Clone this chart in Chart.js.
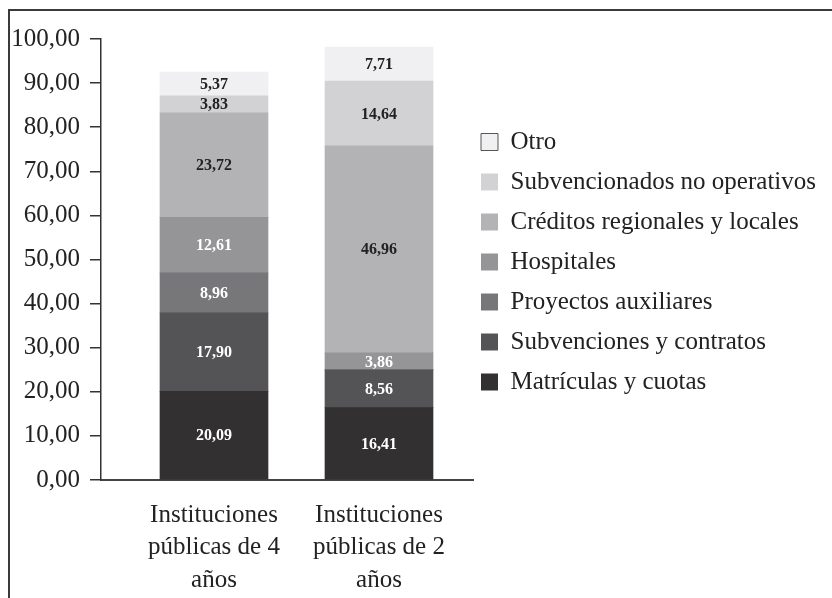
<!DOCTYPE html>
<html>
<head>
<meta charset="utf-8">
<script src="https://cdn.jsdelivr.net/npm/chart.js@4.4.1/dist/chart.umd.min.js"></script>
<style>
    html, body { margin: 0; padding: 0; background: #fff; }
    #wrap { position: relative; width: 832px; height: 598px; overflow: hidden; }
    #frame {
        position: absolute; left: 8px; top: 9px; right: 0; bottom: 0;
        border-top: 2px solid #3a3a3a; border-left: 2px solid #3a3a3a;
        pointer-events: none;
    }
    canvas { position: absolute; left: 0; top: 0; }
</style>
</head>
<body>
<div id="wrap">
    <canvas id="chart" width="832" height="598"></canvas>
    <div id="frame"></div>
</div>
<script>
// Categories (one array of lines per bar)
const categories = [
    ['Instituciones', 'públicas de 4', 'años'],
    ['Instituciones', 'públicas de 2', 'años']
];

// Series, bottom to top
const seriesNames = [
    'Matrículas y cuotas',
    'Subvenciones y contratos',
    'Proyectos auxiliares',
    'Hospitales',
    'Créditos regionales y locales',
    'Subvencionados no operativos',
    'Otro'
];
const matriculas = [20.09, 16.41];
const subvenciones = [17.90, 8.56];
const proyectos = [8.96, 0];
const hospitales = [12.61, 3.86];
const creditos = [23.72, 46.96];
const subvencionados = [3.83, 14.64];
const otro = [5.37, 7.71];

const seriesColors = ['#323031', '#545456', '#77777a', '#959598', '#b3b3b6', '#d2d2d4', '#f0f0f2'];
const labelColors = ['#fff', '#fff', '#fff', '#fff', '#222', '#222', '#222'];

// Y ticks
const yTicks = [0, 10, 20, 30, 40, 50, 60, 70, 80, 90, 100];

const FONT = '"Liberation Serif", "Times New Roman", serif';

function fmt(v) {
    return v.toFixed(2).replace('.', ',');
}

// Keep the legend so that the plot ends where the reference's does
const probe = document.createElement('canvas').getContext('2d');
probe.font = '25px ' + FONT;
const longest = Math.max(...seriesNames.map(n => probe.measureText(n).width));
const legendPad = 8;
const boxSize = 17;
const plotRight = 473;
const rightPad = Math.max(0, 832 - plotRight - (legendPad + boxSize + 12.5 + longest + 10));

const allValues = [matriculas, subvenciones, proyectos, hospitales, creditos, subvencionados, otro];

const datasets = allValues.map((vals, i) => ({
    label: seriesNames[i],
    data: vals.map((v, j) => ({ x: j, y: v })),
    backgroundColor: seriesColors[i],
    borderWidth: 0,
    barThickness: 108
}));

// Value labels in the middle of each segment
const valueLabels = {
    id: 'valueLabels',
    afterDatasetsDraw(chart) {
        const ctx = chart.ctx;
        ctx.save();
        ctx.font = 'bold 16px ' + FONT;
        ctx.textAlign = 'center';
        ctx.textBaseline = 'middle';
        chart.data.datasets.forEach((ds, di) => {
            const meta = chart.getDatasetMeta(di);
            meta.data.forEach((bar, i) => {
                const v = ds.data[i].y;
                if (!v) return;
                const p = bar.getProps(['x', 'y', 'base'], true);
                ctx.fillStyle = labelColors[di];
                ctx.fillText(fmt(v), p.x, (p.y + p.base) / 2 + 1);
            });
        });
        ctx.restore();
    }
};

new Chart(document.getElementById('chart'), {
    type: 'bar',
    data: { datasets: datasets },
    options: {
        responsive: false,
        animation: false,
        events: [],
        layout: { padding: { top: 39, left: 0, right: rightPad, bottom: 0 } },
        scales: {
            x: {
                type: 'linear',
                stacked: true,
                offset: false,
                bounds: 'data',
                min: -0.6848,
                max: 1.5697,
                afterBuildTicks: s => { s.ticks = categories.map((c, i) => ({ value: i })); },
                afterFit: s => { s.height = 118; },
                grid: { display: false, drawTicks: false, offset: false },
                border: { display: true, color: '#444', width: 2 },
                ticks: {
                    autoSkip: false,
                    maxRotation: 0,
                    minRotation: 0,
                    padding: 19,
                    color: '#222',
                    font: { family: FONT, size: 25, lineHeight: 1.3 },
                    callback: v => categories[v]
                }
            },
            y: {
                stacked: true,
                min: 0,
                max: 100,
                afterBuildTicks: s => { s.ticks = yTicks.map(v => ({ value: v })); },
                afterFit: s => { s.width = 101; },
                grid: { drawOnChartArea: false, tickLength: 11, color: '#333', lineWidth: 1.5 },
                border: { display: true, color: '#333', width: 1.5 },
                ticks: {
                    padding: 10,
                    color: '#222',
                    font: { family: FONT, size: 25 },
                    callback: v => fmt(v)
                }
            }
        },
        plugins: {
            tooltip: { enabled: false },
            legend: {
                position: 'right',
                align: 'start',
                reverse: true,
                maxWidth: 420,
                title: { display: true, text: '', font: { size: 10, lineHeight: 1 }, padding: { top: 72.5, bottom: 0 } },
                labels: {
                    boxWidth: boxSize,
                    boxHeight: boxSize,
                    padding: legendPad,
                    color: '#222',
                    font: { family: FONT, size: 25, lineHeight: 1.28 },
                    generateLabels: chart => {
                        const items = Chart.defaults.plugins.legend.labels.generateLabels(chart);
                        return items.map(it => {
                            it.text = [it.text];
                            if (it.datasetIndex === 6) {
                                it.strokeStyle = '#555';
                                it.lineWidth = 1;
                            } else {
                                it.lineWidth = 0;
                            }
                            return it;
                        });
                    }
                }
            }
        }
    },
    plugins: [valueLabels]
});
</script>
</body>
</html>
